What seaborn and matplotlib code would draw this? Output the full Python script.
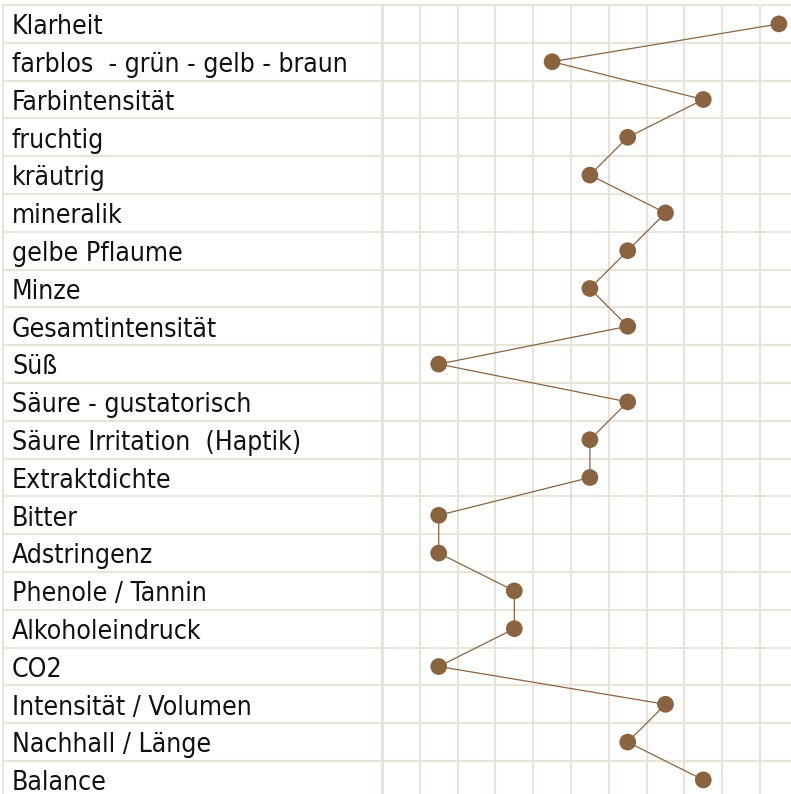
import matplotlib
matplotlib.use("Agg")
import matplotlib.pyplot as plt
import seaborn as sns
import pandas as pd
import numpy as np
from matplotlib import font_manager as fm

categories = [
    "Klarheit", "farblos  - grün - gelb - braun", "Farbintensität", "fruchtig",
    "kräutrig", "mineralik", "gelbe Pflaume", "Minze", "Gesamtintensität", "Süß",
    "Säure - gustatorisch", "Säure Irritation  (Haptik)", "Extraktdichte", "Bitter",
    "Adstringenz", "Phenole / Tannin", "Alkoholeindruck", "CO2",
    "Intensität / Volumen", "Nachhall / Länge", "Balance",
]
scores = [11, 5, 9, 7, 6, 8, 7, 6, 7, 2, 7, 6, 6, 2, 2, 4, 4, 2, 8, 7, 9]

sns.set_theme(style="white")
plt.rcParams['font.family'] = ['DejaVu Sans']

cond = [f for f in fm.fontManager.ttflist if f.name == "DejaVu Sans" and "ondensed" in f.fname
        and f.weight in (400, "normal") and f.style == "normal"]
if cond:
    fprop = fm.FontProperties(fname=cond[0].fname, size=19.1)
else:
    fprop = fm.FontProperties(family="DejaVu Sans", size=17.2)

W, H = 791, 794
fig = plt.figure(figsize=(W / 100, H / 100), dpi=100)
ax = fig.add_axes([0, 0, 1, 1])

unit = 37.8
x0px = 382
xmin = (0 - x0px) / unit
xmax = (W - x0px) / unit
ytop = -0.5 - 5 / unit
ybot = ytop + H / unit

df = pd.DataFrame({"row": np.arange(len(categories)), "score": scores})
df["x"] = df["score"] - 0.5

grid_c = "#e9e4da"
for i in range(len(categories) + 1):
    ax.plot([(3.3 - x0px) / unit, xmax], [i - 0.5, i - 0.5], color=grid_c, lw=1.5, zorder=0)
for k in range(0, 12):
    ax.plot([k, k], [ytop + 5 / unit, ybot], color=grid_c, lw=2.2 if k == 0 else 1.5, zorder=0)
ax.plot([(3.3 - x0px) / unit] * 2, [ytop + 5 / unit, ybot], color=grid_c, lw=1.5, zorder=0)

brown = "#8a6440"
sns.lineplot(data=df, x="x", y="row", orient="y", sort=False, color=brown, lw=0.9, ax=ax, zorder=2)
sns.scatterplot(data=df, x="x", y="row", color=brown, s=145, edgecolor="none", ax=ax, zorder=3)

for i, c in enumerate(categories):
    ax.text((12 - x0px) / unit, i + 10.3 / unit, c, fontproperties=fprop, color="#111111",
            va="baseline", ha="left", clip_on=False)

ax.set_xlim(xmin, xmax)
ax.set_ylim(ybot, ytop)
ax.axis("off")
fig.savefig("out.png", dpi=100)
